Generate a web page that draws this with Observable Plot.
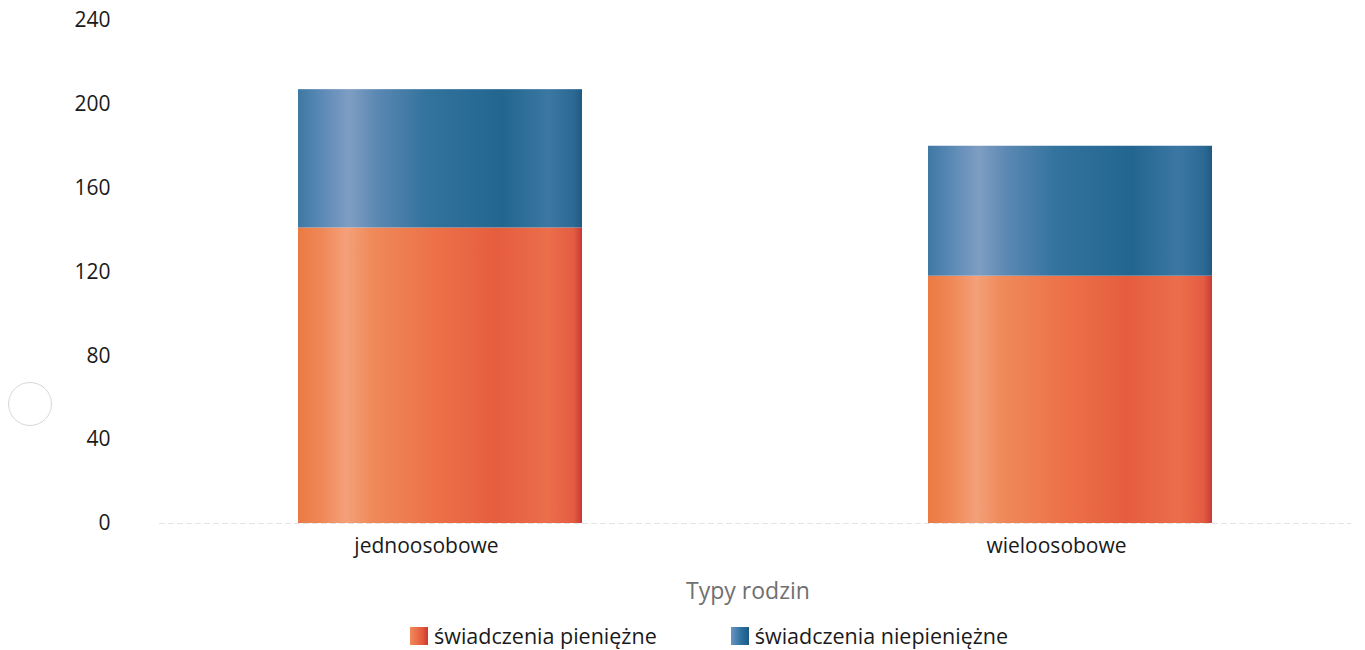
<!DOCTYPE html>
<html><head><meta charset="utf-8">
<script src="https://cdn.jsdelivr.net/npm/d3@7"></script>
<script src="https://cdn.jsdelivr.net/npm/@observablehq/plot@0.6"></script>
<style>
body{margin:0;background:#fff;font-family:"Open Sans",sans-serif;width:1365px;height:650px;overflow:hidden;position:relative}
#xlabel{position:absolute;left:0;width:1365px;top:575px;text-align:center;font-size:23px;color:#707070;line-height:30px;padding-left:131px;box-sizing:border-box}
#legend{position:absolute;top:621px;left:410px;font-size:21.5px;color:#1a1a1a;line-height:30px;display:flex;align-items:center}
.sw{display:inline-block;width:18px;height:18px;margin-right:6px}
.item{display:flex;align-items:center}
#hole{position:absolute;left:8px;top:382px;width:44px;height:44px;border-radius:50%;border:1.5px solid #d8d8d8;box-sizing:border-box}
</style></head>
<body>
<div id="chart"></div>
<div id="xlabel">Typy rodzin</div>
<div id="legend"></div>
<div id="hole"></div>
<script>
const categories = ["jednoosobowe", "wieloosobowe"];
const series = ["świadczenia pieniężne", "świadczenia niepieniężne"];
const pieniezne = [141, 118];
const niepieniezne = [66, 62];
const yTicks = [0, 40, 80, 120, 160, 200, 240];
const xTitle = "Typy rodzin";

const data = [];
categories.forEach((c, i) => {
  data.push({cat: c, series: series[0], value: pieniezne[i]});
  data.push({cat: c, series: series[1], value: niepieniezne[i]});
});

function defs() {
  const ns = "http://www.w3.org/2000/svg";
  const d = document.createElementNS(ns, "defs");
  const mk = (id, stops) => {
    const g = document.createElementNS(ns, "linearGradient");
    g.setAttribute("id", id);
    g.setAttribute("x1", "0"); g.setAttribute("x2", "1");
    g.setAttribute("y1", "0"); g.setAttribute("y2", "0");
    stops.forEach(([o, c]) => {
      const s = document.createElementNS(ns, "stop");
      s.setAttribute("offset", o); s.setAttribute("stop-color", c);
      g.appendChild(s);
    });
    d.appendChild(g);
  };
  mk("gO", [[0,"#eb7a42"],[0.08,"#ef8756"],[0.17,"#f4a07a"],[0.26,"#ef8a5a"],[0.45,"#ed744a"],[0.7,"#e65d3e"],[0.88,"#eb6e4b"],[0.97,"#e45c42"],[1,"#c83a35"]]);
  mk("gB", [[0,"#3e78a3"],[0.08,"#5a89b5"],[0.18,"#7f9dc3"],[0.28,"#5a88b2"],[0.45,"#33739e"],[0.72,"#226690"],[0.88,"#3b77a2"],[0.97,"#2c6a95"],[1,"#1f5a82"]]);
  return d;
}

const chart = Plot.plot({
  width: 1365,
  height: 565,
  marginLeft: 159,
  marginRight: 14,
  marginTop: 20,
  marginBottom: 42,
  style: {fontFamily: "Open Sans, sans-serif", fontSize: "21px", color: "#1a1a1a", background: "#fff"},
  x: {domain: categories, paddingInner: 0.549, paddingOuter: 0.22, label: null},
  y: {domain: [0, 240], label: null},
  color: {domain: series, range: ["url(#gO)", "url(#gB)"]},
  marks: [
    defs,
    Plot.ruleY([0], {stroke: "#e4e4e4", strokeDasharray: "6,3"}),
    Plot.barY(data, {x: "cat", y: "value", fill: "series", order: series}),
    Plot.axisY({ticks: yTicks, tickSize: 0, tickPadding: 49, tickFormat: d => String(d), label: null, fill: "#1a1a1a"}),
    Plot.axisX({tickSize: 0, tickPadding: 15, dx: -14, label: null, fill: "#1a1a1a"})
  ]
});
document.getElementById("chart").appendChild(chart);

const colors = {"świadczenia pieniężne": "linear-gradient(90deg,#ef8a5a,#e4583b 70%,#c83a35)", "świadczenia niepieniężne": "linear-gradient(90deg,#6a95c0,#2a6e9c 60%,#1d5a85)"};
const lg = document.getElementById("legend");
series.forEach((s, i) => {
  const it = document.createElement("span");
  it.className = "item";
  if (i > 0) it.style.marginLeft = "74px";
  const sw = document.createElement("span");
  sw.className = "sw";
  sw.style.background = colors[s];
  it.appendChild(sw);
  it.appendChild(document.createTextNode(s));
  lg.appendChild(it);
});
document.getElementById("xlabel").textContent = xTitle;
</script>
</body></html>
